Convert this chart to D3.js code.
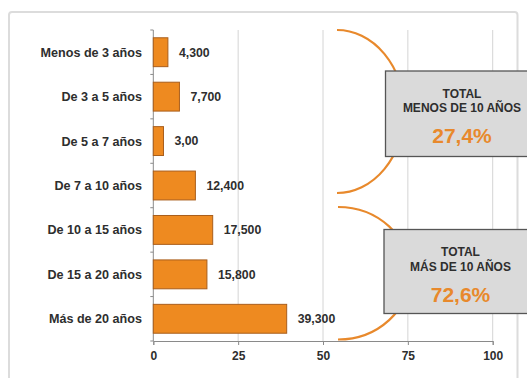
<!DOCTYPE html>
<html>
<head>
<meta charset="utf-8">
<script src="https://cdn.jsdelivr.net/npm/d3@7/dist/d3.min.js"></script>
<style>
  html, body { margin: 0; padding: 0; background: #fff; }
  svg { display: block; font-family: "Liberation Sans", Arial, sans-serif; }
</style>
</head>
<body>
<svg id="chart" width="527" height="378"></svg>
<script>
// Antigüedad: porcentaje por tramo de años
const categories = ["Menos de 3 años", "De 3 a 5 años", "De 5 a 7 años", "De 7 a 10 años",
                    "De 10 a 15 años", "De 15 a 20 años", "Más de 20 años"];
const values = [4.3, 7.7, 3.0, 12.4, 17.5, 15.8, 39.3];
const valueLabels = ["4,300", "7,700", "3,00", "12,400", "17,500", "15,800", "39,300"];
const xTicks = [0, 25, 50, 75, 100];
const totalGroups = [
  { title: "TOTAL", subtitle: "MENOS DE 10 AÑOS", share: "27,4%" },
  { title: "TOTAL", subtitle: "MÁS DE 10 AÑOS", share: "72,6%" }
];

const svg = d3.select("#chart");
const orange = "#ee8a20";
const textColor = "#2e2e2e";

// outer frame
svg.append("rect")
  .attr("x", 9).attr("y", 12).attr("width", 508.5).attr("height", 400)
  .attr("rx", 3)
  .attr("fill", "none").attr("stroke", "#dcdcdc").attr("stroke-width", 2);

const x = d3.scaleLinear().domain([0, 100]).range([153.3, 492.7]);
const y = d3.scaleBand().domain(categories).range([30, 341])
  .paddingInner(0.35).paddingOuter(0.175);
const step = y.step();
const plotBottom = 341;

// vertical gridlines
svg.append("g").selectAll("line")
  .data(xTicks.filter(d => d > 0))
  .join("line")
  .attr("x1", d => x(d)).attr("x2", d => x(d))
  .attr("y1", 30).attr("y2", plotBottom)
  .attr("stroke", "#d4d4d4").attr("stroke-width", 1);

// x axis
const xAxis = svg.append("g")
  .attr("transform", `translate(0,${plotBottom})`)
  .call(d3.axisBottom(x).tickValues(xTicks).tickSize(4).tickPadding(6).tickFormat(d3.format("d")));
xAxis.select(".domain").attr("stroke", "#8a8a8a");
xAxis.selectAll(".tick line").attr("stroke", "#8a8a8a");
xAxis.selectAll(".tick text")
  .attr("fill", textColor).attr("font-size", "12px").attr("font-weight", "bold");

// y axis line and band boundary ticks
svg.append("line")
  .attr("x1", x(0)).attr("x2", x(0)).attr("y1", 30).attr("y2", plotBottom)
  .attr("stroke", "#8a8a8a");
svg.append("g").selectAll("line")
  .data(d3.range(categories.length + 1))
  .join("line")
  .attr("x1", x(0) - 3).attr("x2", x(0))
  .attr("y1", i => 30 + i * step).attr("y2", i => 30 + i * step)
  .attr("stroke", "#8a8a8a");

// bars
svg.append("g").selectAll("rect")
  .data(values)
  .join("rect")
  .attr("x", x(0))
  .attr("y", (d, i) => y(categories[i]))
  .attr("width", d => x(d) - x(0))
  .attr("height", y.bandwidth())
  .attr("fill", orange)
  .attr("stroke", "#a95e1c").attr("stroke-width", 1);

// category labels
svg.append("g").selectAll("text")
  .data(categories)
  .join("text")
  .attr("x", 142)
  .attr("y", d => y(d) + y.bandwidth() / 2)
  .attr("dy", "0.36em")
  .attr("text-anchor", "end")
  .attr("fill", textColor).attr("font-size", "12.6px").attr("font-weight", "bold")
  .text(d => d);

// value labels
svg.append("g").selectAll("text")
  .data(values)
  .join("text")
  .attr("x", d => x(d) + 11)
  .attr("y", (d, i) => y(categories[i]) + y.bandwidth() / 2)
  .attr("dy", "0.36em")
  .attr("fill", textColor).attr("font-size", "12.3px").attr("font-weight", "bold")
  .text((d, i) => valueLabels[i]);

// group brackets
const brackets = [
  "M337,30 A67,81.5 0 0 1 337,193",
  "M338,207 A72,66 0 0 1 338,339.5"
];
svg.append("g").selectAll("path")
  .data(brackets)
  .join("path")
  .attr("d", d => d)
  .attr("fill", "none").attr("stroke", "#e8892c").attr("stroke-width", 2.2);

// total boxes
const boxes = [
  { x: 385.5, y: 71, h: 85.5, cx: 462 },
  { x: 384, y: 229.5, h: 84, cx: 460.5 }
];
totalGroups.forEach((g, i) => {
  const b = boxes[i];
  const grp = svg.append("g");
  grp.append("rect")
    .attr("x", b.x).attr("y", b.y).attr("width", 155).attr("height", b.h)
    .attr("fill", "#dadada").attr("stroke", "#555").attr("stroke-width", 1.3);
  grp.append("text")
    .attr("x", b.cx).attr("y", b.y + 26.5)
    .attr("text-anchor", "middle")
    .attr("fill", textColor).attr("font-size", "12px").attr("font-weight", "bold")
    .text(g.title);
  grp.append("text")
    .attr("x", b.cx).attr("y", b.y + 41)
    .attr("text-anchor", "middle")
    .attr("fill", textColor).attr("font-size", "12px").attr("font-weight", "bold")
    .text(g.subtitle);
  grp.append("text")
    .attr("x", b.cx).attr("y", b.y + 72)
    .attr("text-anchor", "middle")
    .attr("fill", "#e8892c").attr("font-size", "21px").attr("font-weight", "bold")
    .text(g.share);
});
</script>
</body>
</html>
